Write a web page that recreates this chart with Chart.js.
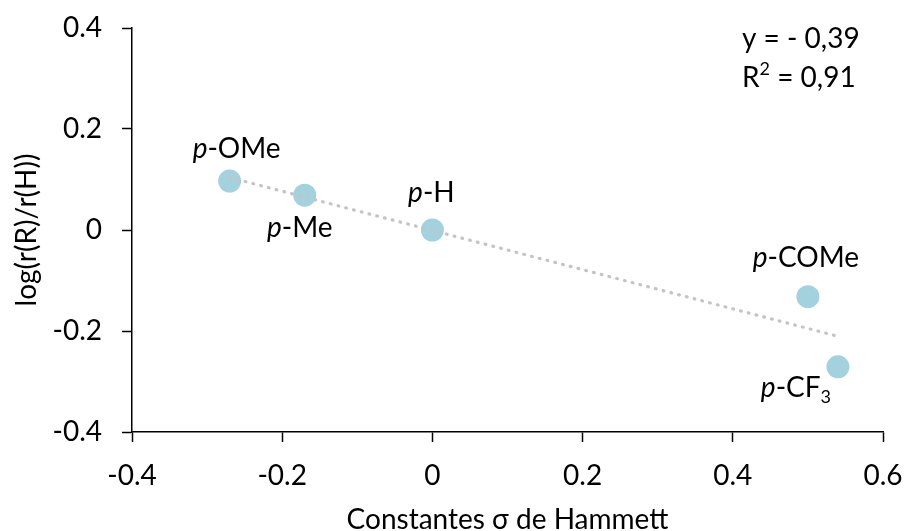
<!DOCTYPE html>
<html>
<head>
<meta charset="utf-8">
<script src="https://cdn.jsdelivr.net/npm/chart.js@4/dist/chart.umd.min.js"></script>
<style>
  html, body { margin: 0; padding: 0; background: #ffffff; }
  #wrap { width: 906px; height: 531px; }
</style>
</head>
<body>
<div id="wrap"><canvas id="c" width="906" height="531"></canvas></div>
<script>
// ---- Data ----
const sigmaValues = [-0.27, -0.17, 0, 0.50, 0.54];          // Hammett constants
const logRatio    = [0.097, 0.069, 0, -0.132, -0.271];      // log(r(R)/r(H))
const labelPrefix = ['p', 'p', 'p', 'p', 'p'];
const labelMain   = ['-OMe', '-Me', '-H', '-COMe', '-CF'];
const labelSub    = ['', '', '', '', '3'];
const xTicks = [-0.4, -0.2, 0, 0.2, 0.4, 0.6];
const yTicks = [-0.4, -0.2, 0, 0.2, 0.4];
const eqLine1 = 'y = - 0,39';
const eqLine2Main = 'R';
const eqLine2Sup = '2';
const eqLine2Rest = ' = 0,91';
const xTitle = 'Constantes σ de Hammett';
const yTitle = 'log(r(R)/r(H))';

// label offsets relative to each marker (px)
const labelOffsets = [[7, -32], [-5, 33], [-1, -37], [-2, -39], [-42, 21]];

// least-squares trend line computed from the data
const n = sigmaValues.length;
const mx = sigmaValues.reduce((a, b) => a + b, 0) / n;
const my = logRatio.reduce((a, b) => a + b, 0) / n;
let sxy = 0, sxx = 0;
for (let i = 0; i < n; i++) { sxy += (sigmaValues[i] - mx) * (logRatio[i] - my); sxx += (sigmaValues[i] - mx) ** 2; }
const slope = sxy / sxx, intercept = my - slope * mx;
const xMin = Math.min(...sigmaValues), xMax = Math.max(...sigmaValues);
const trendPts = [{x: xMin, y: intercept + slope * xMin}, {x: xMax, y: intercept + slope * xMax}];

const FONT = 'Lato, Carlito, Calibri, sans-serif';
const FS = 28;

const labelPlugin = {
  id: 'labels',
  afterDatasetsDraw(chart) {
    const ctx = chart.ctx;
    const meta = chart.getDatasetMeta(0);
    ctx.save();
    ctx.fillStyle = '#000';
    ctx.textBaseline = 'middle';
    meta.data.forEach((pt, i) => {
      const cx = pt.x + labelOffsets[i][0];
      const cy = pt.y + labelOffsets[i][1];
      const fItal = 'italic ' + FS + 'px ' + FONT;
      const fNorm = FS + 'px ' + FONT;
      const fSub = Math.round(FS * 0.65) + 'px ' + FONT;
      ctx.font = fItal; const w1 = ctx.measureText(labelPrefix[i]).width;
      ctx.font = fNorm; const w2 = ctx.measureText(labelMain[i]).width;
      ctx.font = fSub; const w3 = labelSub[i] ? ctx.measureText(labelSub[i]).width : 0;
      let x = cx - (w1 + w2 + w3) / 2;
      ctx.textAlign = 'left';
      ctx.font = fItal; ctx.fillText(labelPrefix[i], x, cy); x += w1;
      ctx.font = fNorm; ctx.fillText(labelMain[i], x, cy); x += w2;
      if (labelSub[i]) { ctx.font = fSub; ctx.fillText(labelSub[i], x, cy + 9); }
    });
    // equation
    const ca = chart.chartArea;
    const ex = ca.right - 141;
    ctx.font = FS + 'px ' + FONT;
    ctx.textAlign = 'left';
    ctx.fillText(eqLine1, ex, ca.top + 11);
    let x = ex;
    const y2 = ca.top + 50;
    ctx.fillText(eqLine2Main, x, y2); x += ctx.measureText(eqLine2Main).width;
    ctx.font = Math.round(FS * 0.65) + 'px ' + FONT;
    ctx.fillText(eqLine2Sup, x, y2 - 9); x += ctx.measureText(eqLine2Sup).width;
    ctx.font = FS + 'px ' + FONT;
    ctx.fillText(eqLine2Rest, x, y2);
    ctx.restore();
  }
};

const fmt = v => { const r = Math.round(v * 10) / 10; return r === 0 ? '0' : String(r); };

new Chart(document.getElementById('c'), {
  type: 'scatter',
  data: {
    datasets: [
      {
        label: 'data',
        data: sigmaValues.map((x, i) => ({x, y: logRatio[i]})),
        backgroundColor: '#A3D1DE',
        borderWidth: 0,
        pointRadius: 11.5,
        pointHoverRadius: 11.5,
        order: 2
      },
      {
        label: 'trend',
        type: 'line',
        data: trendPts,
        borderColor: '#C4C4C4',
        borderWidth: 3.2,
        borderDash: [0.8, 7.2],
        borderCapStyle: 'round',
        pointRadius: 0,
        fill: false,
        order: 1
      }
    ]
  },
  options: {
    responsive: false,
    animation: false,
    devicePixelRatio: 1,
    layout: { padding: { left: 0, right: 23, top: 28, bottom: 0 } },
    plugins: { legend: { display: false }, tooltip: { enabled: false } },
    scales: {
      x: {
        type: 'linear',
        min: -0.4, max: 0.6,
        afterBuildTicks: s => { s.ticks = xTicks.map(v => ({value: v})); },
        afterFit: s => { s.height = 99; s.paddingLeft = 0; s.paddingRight = 0; },
        grid: { drawOnChartArea: false, drawTicks: true, tickLength: 10, tickColor: '#000', tickWidth: 1.5 },
        border: { display: true, color: '#000', width: 1.5 },
        ticks: { color: '#000', font: { family: FONT, size: FS }, padding: 17, maxRotation: 0, callback: fmt },
        title: { display: true, text: xTitle, color: '#000', font: { family: FONT, size: FS, lineHeight: 1 }, padding: { top: 0, bottom: -3 } }
      },
      y: {
        type: 'linear',
        min: -0.4, max: 0.4,
        afterBuildTicks: s => { s.ticks = yTicks.map(v => ({value: v})); },
        afterFit: s => { s.width = 132; s.paddingTop = 0; s.paddingBottom = 0; },
        grid: { drawOnChartArea: false, drawTicks: true, tickLength: 10, tickColor: '#000', tickWidth: 1.5 },
        border: { display: true, color: '#000', width: 1.5 },
        ticks: { color: '#000', font: { family: FONT, size: FS }, padding: 20, callback: fmt },
        title: { display: true, text: yTitle, color: '#000', font: { family: FONT, size: FS, lineHeight: 1 }, padding: { top: 13, bottom: 0 } }
      }
    }
  },
  plugins: [labelPlugin]
});
</script>
</body>
</html>
